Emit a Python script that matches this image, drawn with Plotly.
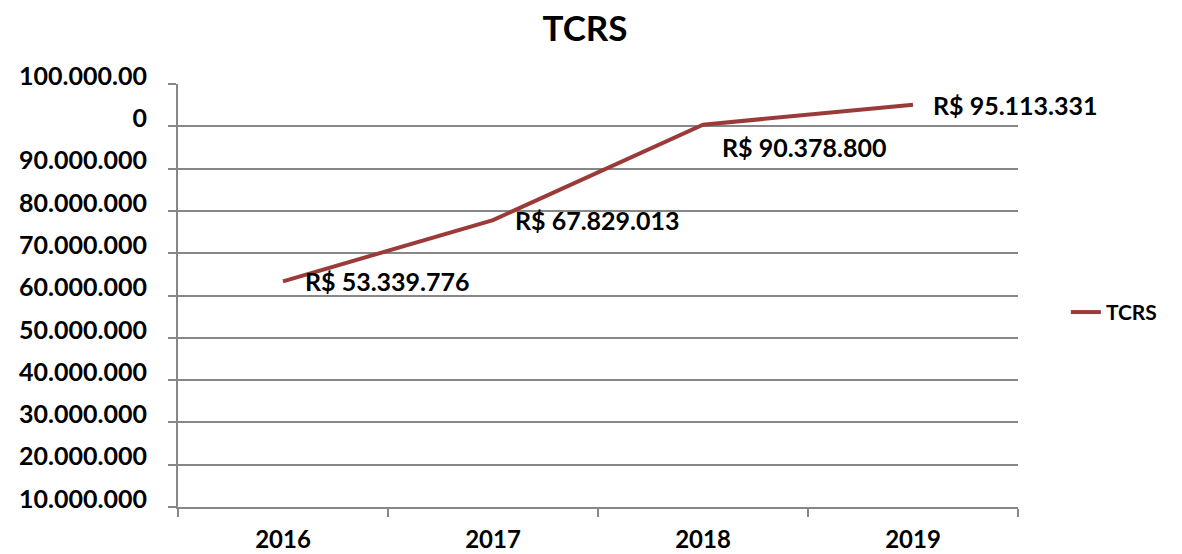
import plotly.graph_objects as go

# data
years = ['2016', '2017', '2018', '2019']
tcrs = [53339776, 67829013, 90378800, 95113331]

# y axis labels as they appear in the chart (shifted by one row, top label wrapped)
y_tickvals = [0, 10000000, 20000000, 30000000, 40000000, 50000000,
              60000000, 70000000, 80000000, 90000000, 100000000]
y_ticktext = ['10.000.000', '20.000.000', '30.000.000', '40.000.000', '50.000.000',
              '60.000.000', '70.000.000', '80.000.000', '90.000.000', '0', '100.000.00']

labels = ['R$ ' + f'{v:,}'.replace(',', '.') for v in tcrs]
# label offsets (px) from each point: right of the point, 2018 below-right
label_dx = [20, 20, 17, 18]
label_dy = [0, 0, -22, 0]

FONT = 'Lato'
LINE_COLOR = '#9B3B39'
GRID = '#878787'

fig = go.Figure()
fig.add_trace(go.Scatter(
    x=years, y=tcrs, name='TCRS',
    mode='lines',
    line=dict(color=LINE_COLOR, width=4),
))

# data labels; category axis positions are given by index
for i, (v, txt, dx, dy) in enumerate(zip(tcrs, labels, label_dx, label_dy)):
    fig.add_annotation(
        x=i, y=v, xref='x', yref='y', text=txt, showarrow=False,
        xanchor='left', yanchor='middle', xshift=dx, yshift=dy,
        font=dict(family=FONT, size=25, color='#000000', weight='bold'),
    )

# page body has an 8px margin, so the figure starts at (8, 8) in the window
fig.update_layout(
    width=1174, height=546,
    margin=dict(l=170, r=164, t=76, b=47, autoexpand=False),
    paper_bgcolor='white', plot_bgcolor='white',
    title=dict(text='TCRS', x=0.4915, xanchor='center', y=1 - 21 / 546, yanchor='middle',
               yref='container',
               font=dict(family=FONT, size=35, color='#000000', weight='bold')),
    showlegend=True,
    legend=dict(x=1.057, y=0.46, xanchor='left', yanchor='middle',
                font=dict(family=FONT, size=21, color='#000000', weight='bold'),
                bgcolor='rgba(0,0,0,0)'),
)

fig.update_xaxes(
    type='category', range=[-0.5, 3.5], automargin=False,
    showgrid=False, showline=True, linecolor=GRID, linewidth=2,
    tickson='boundaries', ticks='outside', ticklen=8, tickcolor=GRID, tickwidth=2,
    tickfont=dict(family=FONT, size=24, color='#000000', weight='bold'),
    ticklabelstandoff=10,
)
fig.update_yaxes(
    range=[0, 100000000], automargin=False,
    tickvals=y_tickvals, ticktext=y_ticktext,
    showgrid=True, gridcolor=GRID, gridwidth=2,
    showline=True, linecolor=GRID, linewidth=2,
    ticks='outside', ticklen=8, tickcolor=GRID, tickwidth=2,
    tickfont=dict(family=FONT, size=25, color='#000000', weight='bold'),
    ticklabelshift=-8, ticklabelstandoff=16,
    zeroline=False,
)

fig.write_html('out.html')
